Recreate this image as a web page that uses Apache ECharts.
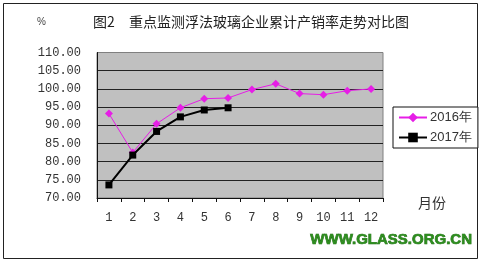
<!DOCTYPE html>
<html><head><meta charset="utf-8">
<script src="https://cdn.jsdelivr.net/npm/echarts@6/dist/echarts.min.js"></script>
<style>html,body{margin:0;padding:0;background:#fff}#c{width:482px;height:263px}</style>
</head><body><div id="c"></div>
<script>
const months = ['1','2','3','4','5','6','7','8','9','10','11','12'];
const data2016 = [93.2, 82.5, 90.4, 94.8, 97.3, 97.5, 99.8, 101.4, 98.7, 98.4, 99.5, 100.0];
const data2017 = [73.6, 81.8, 88.3, 92.3, 94.2, 94.8];
const yTicks = {min: 70, max: 110, interval: 5};
const titleText = '图2　重点监测浮法玻璃企业累计产销率走势对比图';

const chart = echarts.init(document.getElementById('c'));
chart.setOption({
  animation: false,
  backgroundColor: '#fff',
  title: {text: titleText, left: 246, textAlign: 'center', top: 10,
    textStyle: {fontFamily: 'Noto Sans CJK SC', fontSize: 14, fontWeight: 'normal', color: '#222'}},
  grid: {left: 97, right: 99, top: 52.5, bottom: 65, show: true, backgroundColor: '#c0c0c0', borderColor: '#808080', borderWidth: 1},
  legend: {
    orient: 'vertical', left: 393, top: 107, itemWidth: 28, itemHeight: 12, itemGap: 7,
    padding: [4, 6, 4, 5], borderColor: '#111', borderWidth: 1, backgroundColor: '#fff',
    textStyle: {fontFamily: 'Liberation Sans', fontSize: 13, color: '#333', padding: [0,0,0,-2]},
    data: ['2016年', '2017年']
  },
  xAxis: {
    type: 'category', data: months, boundaryGap: true,
    axisLine: {lineStyle: {color: '#111', width: 1}},
    axisTick: {show: true, interval: 0, length: 4, inside: false, lineStyle: {color: '#111'}},
    axisLabel: {margin: 14, fontFamily: 'Liberation Mono', fontSize: 12, color: '#333'}
  },
  yAxis: {
    type: 'value', min: yTicks.min, max: yTicks.max, interval: yTicks.interval,
    axisLine: {show: true, lineStyle: {color: '#111', width: 1}},
    axisTick: {show: false},
    axisLabel: {margin: 16, fontFamily: 'Liberation Mono', fontSize: 12, color: '#333',
      formatter: v => v.toFixed(2)},
    splitLine: {lineStyle: {color: ['#222','#222','#222','#222','#222','#222','#222','#222','#808080'], width: 1}}
  },
  series: [
    {name: '2016年', type: 'line', data: data2016, color: '#e61ee6',
     lineStyle: {width: 1, color: '#e61ee6'}, symbol: 'diamond', symbolSize: 8,
     itemStyle: {color: '#e61ee6'}, z: 3},
    {name: '2017年', type: 'line', data: data2017, color: '#000',
     lineStyle: {width: 2, color: '#000'}, symbol: 'rect', symbolSize: 7,
     itemStyle: {color: '#000'}, z: 4}
  ],
  graphic: [
    {type: 'rect', shape: {x: 3.5, y: 3.5, width: 474, height: 255}, style: {fill: 'none', stroke: '#222', lineWidth: 1}, silent: true, z: -1},
    {type: 'text', left: 37, top: 17, style: {text: '%', font: '10px "Liberation Sans"', fill: '#444'}},
    {type: 'text', left: 418, top: 196, style: {text: '月份', font: '14px "Noto Sans CJK SC"', fill: '#333'}},
    {type: 'text', left: 310, top: 232, style: {text: 'WWW.GLASS.ORG.CN', font: 'bold 15px "Liberation Sans"', fill: '#2d8c1e', stroke: '#1d6a12', lineWidth: 0.7}}
  ]
});
</script></body></html>
